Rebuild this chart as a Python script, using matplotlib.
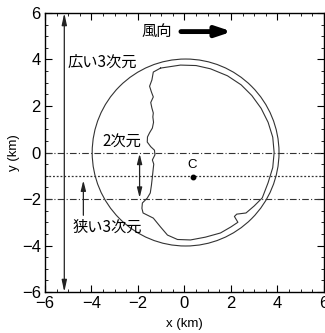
import matplotlib
matplotlib.use("Agg")
import matplotlib.pyplot as plt
from matplotlib.patches import Circle
from matplotlib.ticker import MultipleLocator

plt.rcParams['font.family'] = ['Liberation Sans', 'DejaVu Sans']
JP = ['Noto Sans CJK JP', 'DejaVu Sans']

# data
x_ticks = [-6, -4, -2, 0, 2, 4, 6]
y_ticks = [-6, -4, -2, 0, 2, 4, 6]
circle_center = (0.05, 0.0)
circle_radius = 4.02
point_c = (0.35, -1.05)
dashdot_levels = [0.0, -2.0]
dotted_level = -1.0
contour_x = [-1.03, -1.34, -1.40, -1.50, -1.42, -1.34, -1.45, -1.40, -1.34, -1.36, -1.33,
             -1.38, -1.50, -1.59, -1.60, -1.45, -1.29, -1.27, -1.38, -1.32, -1.34, -1.38,
             -1.42, -1.47, -1.60, -1.81, -1.83, -1.78, -1.34, -1.03, -0.73, -0.30, 0.26,
             0.90, 1.55, 2.00, 2.30, 2.15, 2.25, 2.65, 3.00, 3.35, 3.60, 3.80, 3.86, 3.80,
             3.60, 3.30, 2.90, 2.44, 1.85, 1.12, 0.50, -0.17, -1.03]
contour_y = [3.63, 3.46, 3.12, 2.85, 2.60, 2.39, 2.15, 1.91, 1.70, 1.53, 1.30,
             1.05, 0.85, 0.67, 0.45, 0.25, 0.10, -0.10, -0.32, -0.50, -0.67, -1.05,
             -1.40, -1.74, -1.96, -2.17, -2.40, -2.60, -2.82, -3.20, -3.55, -3.74, -3.76,
             -3.64, -3.46, -3.20, -3.00, -2.75, -2.65, -2.60, -2.30, -1.95, -1.30, -0.65, 0.00, 0.66,
             1.30, 1.90, 2.45, 2.91, 3.30, 3.60, 3.74, 3.76, 3.63]

fig = plt.figure(figsize=(3.25, 3.33), dpi=100)
ax = fig.add_axes([0.1385, 0.123, 0.858, 0.838])
ax.set_xlim(-6, 6)
ax.set_ylim(-6, 6)
ax.set_xticks(x_ticks)
ax.set_yticks(y_ticks)
ax.xaxis.set_minor_locator(MultipleLocator(0.5))
ax.yaxis.set_minor_locator(MultipleLocator(0.5))
ax.tick_params(which='both', direction='in', top=True, right=True, labelsize=12, pad=3)
ax.tick_params(which='major', length=5, width=0.8)
ax.tick_params(which='minor', length=2.5, width=0.6)
for s in ax.spines.values():
    s.set_linewidth(1.0)
ax.set_xlabel('x (km)', fontsize=9.5, labelpad=5)
ax.set_ylabel('y (km)', fontsize=9.5, labelpad=1)

ax.add_patch(Circle(circle_center, circle_radius, fill=False, lw=0.8, ec='#333333'))
ax.plot(contour_x, contour_y, color='#333333', lw=0.8)

for lv in dashdot_levels:
    ax.axhline(lv, color='#333333', lw=0.8, ls=(0, (6, 2, 1, 2)))
ax.axhline(dotted_level, color='#333333', lw=0.9, ls=(0, (1.5, 1.5)))

ax.plot([point_c[0]], [point_c[1]], 'o', color='black', ms=3.2)
ax.text(point_c[0], point_c[1] + 0.5, 'C', ha='center', va='center', fontsize=9.5)

# big vertical double arrow
ax.annotate('', xy=(-5.17, 6.0), xytext=(-5.17, -6.0),
            arrowprops=dict(arrowstyle='<|-|>,head_length=0.7,head_width=0.15', color='#222222', lw=0.9,
                            shrinkA=0, shrinkB=0))
ax.text(-5.05, 3.9, '広い3次元', family=JP, fontsize=11, ha='left', va='center')

# 2D double arrow
ax.annotate('', xy=(-1.93, -0.05), xytext=(-1.93, -1.95),
            arrowprops=dict(arrowstyle='<|-|>,head_length=0.6,head_width=0.15', color='#222222', lw=0.9,
                            shrinkA=0, shrinkB=0))
ax.text(-3.55, 0.42, '2次元', family=JP, fontsize=11, ha='left', va='center')

# narrow arrow
ax.annotate('', xy=(-4.35, -1.2), xytext=(-4.35, -2.7),
            arrowprops=dict(arrowstyle='-|>,head_length=0.6,head_width=0.15', color='#222222', lw=0.9,
                            shrinkA=0, shrinkB=0))
ax.text(-4.8, -3.2, '狭い3次元', family=JP, fontsize=11, ha='left', va='center')

# wind direction
ax.text(-1.85, 5.2, '風向', family=JP, fontsize=11, ha='left', va='center')
ax.annotate('', xy=(2.05, 5.2), xytext=(-0.15, 5.2),
            arrowprops=dict(arrowstyle='-|>,head_length=0.9,head_width=0.3', color='black', lw=3.5,
                            shrinkA=0, shrinkB=0))

fig.savefig('out.png', dpi=100)
